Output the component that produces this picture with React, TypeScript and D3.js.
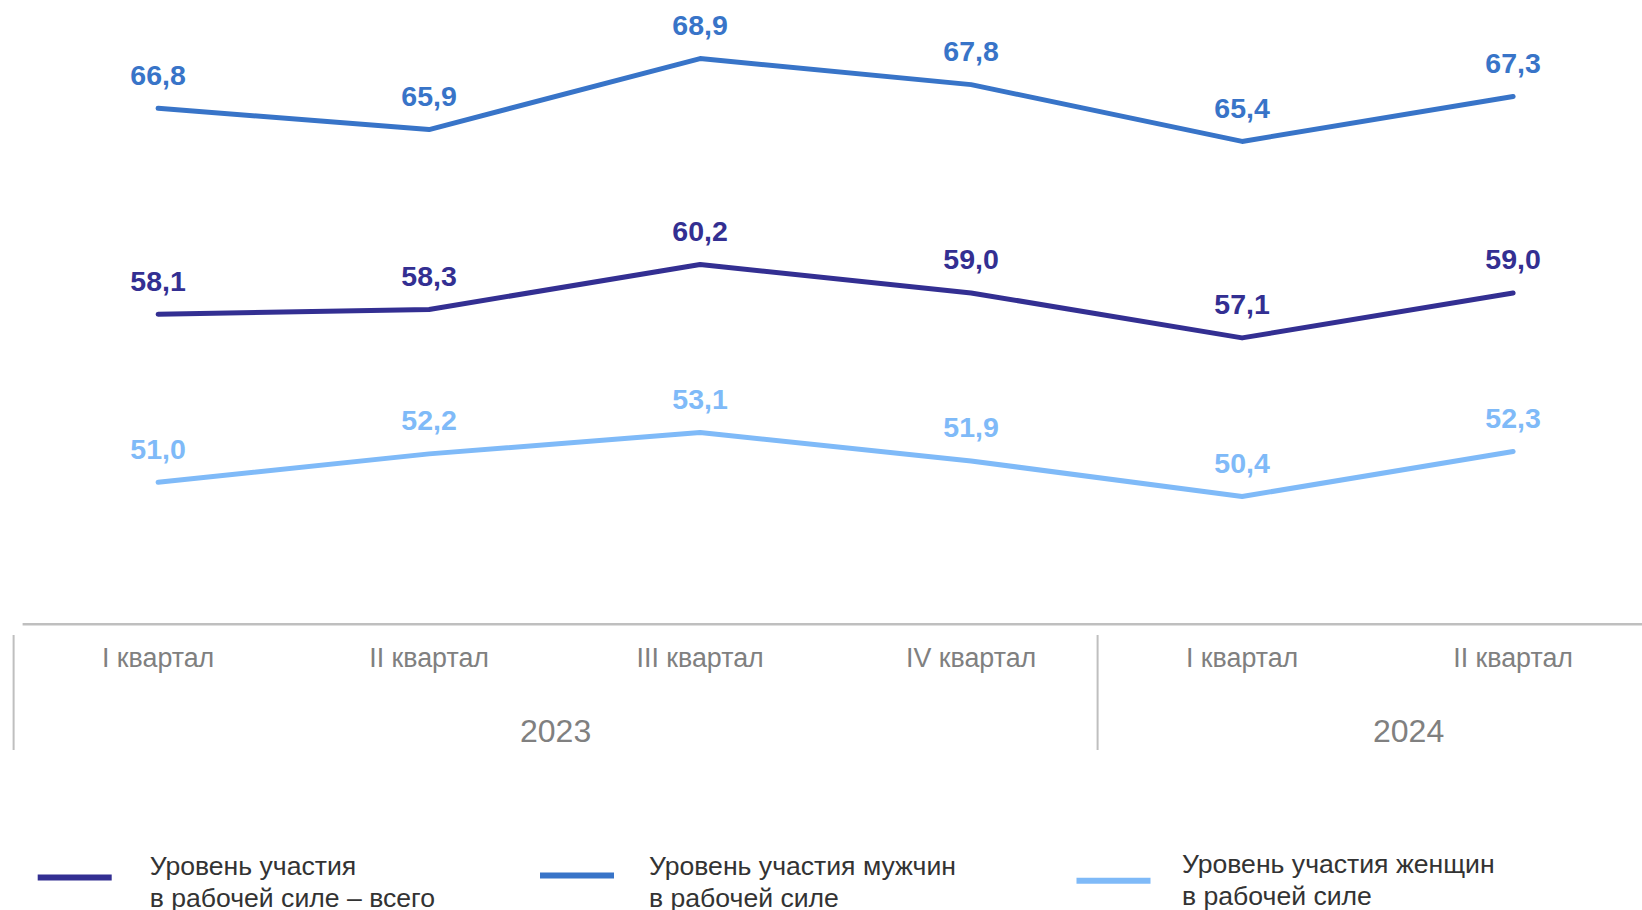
import React from "react";
import * as d3 from "d3";

const quarters = ["I квартал", "II квартал", "III квартал", "IV квартал", "I квартал", "II квартал"];
const years = ["2023", "2024"];
const yearGroupSizes = [4, 2];
const totalValues = [58.1, 58.3, 60.2, 59.0, 57.1, 59.0];
const menValues = [66.8, 65.9, 68.9, 67.8, 65.4, 67.3];
const womenValues = [51.0, 52.2, 53.1, 51.9, 50.4, 52.3];
const seriesNames = [
  ["Уровень участия", "в рабочей силе – всего"],
  ["Уровень участия мужчин", "в рабочей силе"],
  ["Уровень участия женщин", "в рабочей силе"],
];

const W = 1642;
const H = 910;
const colors = ["#332F92", "#3874C8", "#7FBAF8"];
const FONT = "'Liberation Sans', Arial, sans-serif";

export default function App() {
  const idx = quarters.map((_, i) => i);
  const x = d3.scaleBand<number>().domain(idx).range([22.6, 22.6 + 6 * 271]).padding(0);
  const cx = (i: number) => (x(i) as number) + x.bandwidth() / 2;
  const y = d3.scaleLinear().domain([45, 72]).range([624.3, -14.8]);

  const line = d3
    .line<number>()
    .x((_, i) => cx(i))
    .y((d) => y(d));

  const series = [totalValues, menValues, womenValues];

  let start = 0;
  const groups = yearGroupSizes.map((n, g) => {
    const s = start;
    start += n;
    return { label: years[g], s, e: s + n - 1 };
  });
  const sepOffset = -9;
  const yearDx = [0, 40];

  const legendX = [37.7, 540, 1076.5];
  const legendTextX = [149.7, 649, 1182];
  const legendY = [877.5, 875.5, 880.7];
  const legendTextY = [875, 875, 873];

  return (
    <div style={{ position: "absolute", left: 0, top: 0 }}>
      <svg width={W} height={H} style={{ display: "block", background: "#fff" }}>
        <line x1={x(0) as number} x2={W} y1={y(45)} y2={y(45)} stroke="#BFBFBF" strokeWidth={2.5} />
        {[0, groups[1].s].map((i, k) => (
          <line
            key={k}
            x1={(x(i) as number) + sepOffset}
            x2={(x(i) as number) + sepOffset}
            y1={635}
            y2={750}
            stroke="#BFBFBF"
            strokeWidth={2}
          />
        ))}
        {quarters.map((q, i) => (
          <text
            key={i}
            x={cx(i)}
            y={667}
            textAnchor="middle"
            fontFamily={FONT}
            fontSize={26.8}
            fill="#808080"
          >
            {q}
          </text>
        ))}
        {groups.map((g, k) => (
          <text
            key={k}
            x={((x(g.s) as number) + (x(g.e) as number) + x.bandwidth()) / 2 + sepOffset + yearDx[k]}
            y={742}
            textAnchor="middle"
            fontFamily={FONT}
            fontSize={32}
            fill="#808080"
          >
            {g.label}
          </text>
        ))}
        {series.map((vals, s) => (
          <path
            key={s}
            d={line(vals) || ""}
            fill="none"
            stroke={colors[s]}
            strokeWidth={5}
            strokeLinecap="round"
            strokeLinejoin="round"
          />
        ))}
        {series.map((vals, s) =>
          vals.map((v, i) => (
            <text
              key={s + "-" + i}
              x={cx(i)}
              y={y(v) - 23.5}
              textAnchor="middle"
              fontFamily={FONT}
              fontSize={28.5}
              fontWeight="bold"
              fill={colors[s]}
            >
              {v.toFixed(1).replace(".", ",")}
            </text>
          ))
        )}
        {seriesNames.map((nm, s) => (
          <g key={s}>
            <line
              x1={legendX[s]}
              x2={legendX[s] + 74}
              y1={legendY[s]}
              y2={legendY[s]}
              stroke={colors[s]}
              strokeWidth={6}
            />
            {nm.map((t, k) => (
              <text
                key={k}
                x={legendTextX[s]}
                y={legendTextY[s] + k * 31.5}
                fontFamily={FONT}
                fontSize={26.6}
                fill="#333333"
              >
                {t}
              </text>
            ))}
          </g>
        ))}
      </svg>
    </div>
  );
}
